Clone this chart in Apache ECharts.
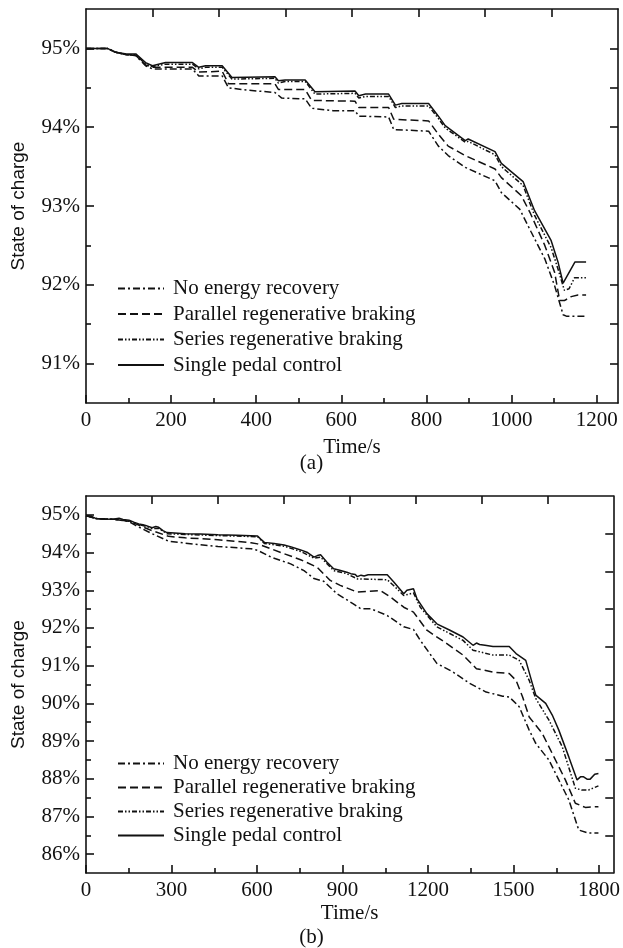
<!DOCTYPE html>
<html>
<head>
<meta charset="utf-8">
<script src="https://cdn.jsdelivr.net/npm/echarts@6/dist/echarts.min.js"></script>
<style>
html,body{margin:0;padding:0;background:#fff;}
#c{width:623px;height:948px;}
</style>
</head>
<body>
<div id="c"></div>
<script>
// ---- Data: (a) ----
const seriesNames = ['No energy recovery', 'Parallel regenerative braking', 'Series regenerative braking', 'Single pedal control'];

const aNone = [[0,95.0],[50,95.0],[70,94.95],[95,94.92],[117,94.91],[140,94.78],[156,94.74],[250,94.74],[265,94.65],[320,94.65],[335,94.50],[380,94.47],[444,94.44],[460,94.37],[515,94.36],[530,94.24],[580,94.21],[632,94.21],[641,94.14],[711,94.13],[723,93.97],[805,93.95],[828,93.76],[851,93.64],[891,93.49],[961,93.32],[976,93.17],[1019,92.96],[1046,92.67],[1078,92.33],[1101,91.99],[1121,91.62],[1130,91.60],[1175,91.60]];
const aParallel = [[0,95.0],[50,95.0],[70,94.95],[95,94.92],[117,94.91],[140,94.79],[156,94.76],[250,94.76],[265,94.70],[320,94.71],[335,94.55],[444,94.55],[452,94.48],[515,94.48],[530,94.34],[632,94.33],[641,94.25],[711,94.25],[723,94.10],[805,94.08],[828,93.91],[851,93.76],[891,93.64],[961,93.47],[976,93.36],[1023,93.13],[1043,92.92],[1078,92.50],[1101,92.16],[1113,91.80],[1124,91.80],[1140,91.85],[1156,91.87],[1175,91.87]];
const aSeries = [[0,95.0],[50,95.0],[70,94.95],[95,94.92],[117,94.92],[140,94.80],[156,94.77],[187,94.80],[250,94.80],[265,94.74],[281,94.76],[320,94.76],[343,94.61],[444,94.62],[452,94.56],[468,94.58],[515,94.58],[538,94.42],[632,94.43],[641,94.37],[657,94.39],[711,94.39],[727,94.25],[742,94.27],[805,94.27],[828,94.11],[844,93.99],[891,93.81],[898,93.82],[961,93.65],[976,93.50],[1027,93.26],[1054,92.88],[1093,92.47],[1109,92.20],[1124,91.93],[1135,91.95],[1148,92.09],[1175,92.09]];
const aSingle = [[0,95.0],[50,95.0],[70,94.95],[95,94.93],[117,94.93],[140,94.82],[156,94.78],[187,94.82],[250,94.82],[265,94.76],[281,94.78],[320,94.78],[343,94.63],[444,94.64],[452,94.59],[468,94.60],[515,94.60],[538,94.45],[632,94.46],[641,94.40],[657,94.42],[711,94.42],[727,94.28],[742,94.30],[805,94.30],[828,94.14],[844,94.02],[891,93.83],[898,93.85],[961,93.69],[976,93.54],[1027,93.31],[1054,92.94],[1093,92.56],[1109,92.29],[1121,92.02],[1149,92.29],[1175,92.29]];

// ---- Data: (b) ----
const bNone = [[0,94.98],[35,94.90],[100,94.88],[151,94.82],[174,94.72],[232,94.50],[290,94.30],[348,94.25],[463,94.16],[579,94.10],[602,94.06],[649,93.88],[718,93.70],[765,93.52],[800,93.31],[834,93.24],[880,92.91],[938,92.64],[964,92.51],[999,92.51],[1057,92.33],[1115,92.03],[1149,91.96],[1173,91.67],[1231,91.06],[1288,90.83],[1346,90.53],[1404,90.30],[1462,90.19],[1485,90.17],[1520,89.91],[1555,89.29],[1578,88.94],[1624,88.50],[1659,87.97],[1694,87.44],[1729,86.64],[1763,86.56],[1798,86.56]];
const bParallel = [[0,94.98],[35,94.90],[100,94.88],[151,94.83],[174,94.76],[232,94.58],[290,94.43],[348,94.39],[463,94.34],[579,94.26],[602,94.23],[695,93.97],[753,93.81],[811,93.61],[857,93.26],[892,93.13],[952,92.95],[1034,92.99],[1068,92.82],[1115,92.55],[1149,92.42],[1196,91.94],[1265,91.59],[1323,91.28],[1370,90.92],[1428,90.83],[1485,90.79],[1509,90.61],[1532,90.17],[1555,89.64],[1601,89.20],[1636,88.67],[1682,87.97],[1717,87.35],[1752,87.24],[1798,87.26]];
const bSeries = [[0,94.98],[35,94.90],[100,94.88],[151,94.84],[185,94.74],[209,94.70],[232,94.64],[255,94.64],[284,94.50],[348,94.48],[463,94.45],[602,94.42],[626,94.24],[695,94.17],[753,94.03],[800,93.85],[823,93.88],[869,93.52],[915,93.44],[952,93.30],[1057,93.28],[1080,93.12],[1115,92.86],[1149,92.93],[1173,92.55],[1231,92.03],[1323,91.67],[1358,91.41],[1428,91.28],[1485,91.28],[1520,91.14],[1555,90.61],[1578,90.13],[1624,89.56],[1671,88.85],[1717,87.75],[1740,87.70],[1763,87.70],[1798,87.81]];
const bSingle = [[0,94.98],[20,94.96],[35,94.90],[70,94.88],[100,94.89],[116,94.91],[130,94.88],[151,94.86],[170,94.80],[185,94.76],[200,94.74],[209,94.72],[232,94.66],[245,94.69],[255,94.67],[270,94.58],[284,94.53],[310,94.52],[348,94.50],[400,94.49],[463,94.47],[530,94.46],[602,94.44],[614,94.35],[626,94.27],[660,94.24],[695,94.20],[720,94.15],[753,94.07],[775,94.01],[800,93.88],[812,93.92],[823,93.94],[845,93.75],[869,93.57],[890,93.53],[915,93.48],[929,93.44],[945,93.42],[952,93.36],[965,93.40],[976,93.38],[990,93.41],[1057,93.41],[1080,93.22],[1115,92.91],[1126,93.00],[1149,93.04],[1161,92.78],[1196,92.38],[1231,92.11],[1277,91.94],[1323,91.76],[1358,91.54],[1370,91.60],[1381,91.56],[1400,91.54],[1428,91.51],[1485,91.51],[1509,91.32],[1543,91.14],[1566,90.53],[1578,90.22],[1613,90.00],[1636,89.69],[1659,89.29],[1694,88.58],[1723,87.97],[1735,88.05],[1746,88.05],[1758,87.99],[1769,87.99],[1785,88.12],[1798,88.14]];

// ---- Ticks ----
const aXMajor = [0,200,400,600,800,1000,1200];
const aXMinor = [100,300,500,700,900,1100];
const aYMajor = [91,92,93,94,95];
const aYMinor = [91.5,92.5,93.5,94.5];
const bXMajor = [0,300,600,900,1200,1500,1800];
const bXMinor = [150,450,750,1050,1350,1650];
const bYMajor = [86,87,88,89,90,91,92,93,94,95];
const bYMinor = [86.5,87.5,88.5,89.5,90.5,91.5,92.5,93.5,94.5];

const SERIF = 'Liberation Serif';
const SANS = 'Liberation Sans';
const INK = '#111';
const dashes = [[7,3,2,3],[8,4],[5,2,1.5,2,1.5,2],'solid'];

function fracTicks(min, max, n) { const r = []; for (let i = 1; i < n; i++) r.push(min + (max - min) * i / n); return r; }

function buildAxes(gi, xMax, yMin, yMax, xMajor, xMinor, yMajor, yMinor, xNameGap) {
  const lineStyle = { color: INK, width: 1.6 };
  const xs = [
    { type:'value', gridIndex:gi, position:'bottom', min:0, max:xMax,
      name:'Time/s', nameLocation:'middle', nameGap:xNameGap,
      nameTextStyle:{ fontFamily:SERIF, fontSize:21, color:INK },
      axisLine:{ show:true, onZero:false, lineStyle },
      axisTick:{ show:true, inside:true, length:8, customValues:xMajor, lineStyle },
      axisLabel:{ show:true, customValues:xMajor, formatter:v => String(v), fontFamily:SERIF, fontSize:21, color:INK, margin:7 },
      splitLine:{ show:false } },
    { type:'value', gridIndex:gi, position:'bottom', min:0, max:xMax,
      axisLine:{ show:false, onZero:false },
      axisTick:{ show:true, inside:true, length:5, customValues:xMinor, lineStyle },
      axisLabel:{ show:false }, splitLine:{ show:false } },
    { type:'value', gridIndex:gi, position:'top', min:0, max:xMax,
      axisLine:{ show:true, onZero:false, lineStyle },
      axisTick:{ show:true, inside:true, length:8, customValues:fracTicks(0, xMax, 8), lineStyle },
      axisLabel:{ show:false }, splitLine:{ show:false } }
  ];
  const ys = [
    { type:'value', gridIndex:gi, position:'left', min:yMin, max:yMax,
      name:'State of charge', nameLocation:'middle', nameGap:58, nameRotate:90,
      nameTextStyle:{ fontFamily:SANS, fontSize:19, color:INK },
      axisLine:{ show:true, onZero:false, lineStyle },
      axisTick:{ show:true, inside:true, length:8, customValues:yMajor, lineStyle },
      axisLabel:{ show:true, customValues:yMajor, formatter:v => v + '%', fontFamily:SERIF, fontSize:21, color:INK, margin:6 },
      splitLine:{ show:false } },
    { type:'value', gridIndex:gi, position:'left', min:yMin, max:yMax,
      axisLine:{ show:false, onZero:false },
      axisTick:{ show:true, inside:true, length:5, customValues:yMinor, lineStyle },
      axisLabel:{ show:false }, splitLine:{ show:false } },
    { type:'value', gridIndex:gi, position:'right', min:yMin, max:yMax,
      axisLine:{ show:true, onZero:false, lineStyle },
      axisTick:{ show:true, inside:true, length:8, customValues:fracTicks(yMin, yMax, 10), lineStyle },
      axisLabel:{ show:false }, splitLine:{ show:false } }
  ];
  return { xs, ys };
}

const A = buildAxes(0, 1250, 90.5, 95.5, aXMajor, aXMinor, aYMajor, aYMinor, 34);
const B = buildAxes(1, 1850, 85.5, 95.5, bXMajor, bXMinor, bYMajor, bYMinor, 30);

function mk(name, data, dash, xi, yi) {
  return { type:'line', name, data, xAxisIndex:xi, yAxisIndex:yi, symbol:'none', showSymbol:false, smooth:false,
    lineStyle:{ color:INK, width:1.5, type:dash }, itemStyle:{ color:INK }, animation:false, z:3 };
}

const aData = [aNone, aParallel, aSeries, aSingle];
const bData = [bNone, bParallel, bSeries, bSingle];
const series = [];
aData.forEach((d, i) => series.push(mk(seriesNames[i], d, dashes[i], 0, 0)));
bData.forEach((d, i) => series.push(mk(seriesNames[i], d, dashes[i], 3, 3)));

function legend(top, gap) {
  return { show:true, orient:'vertical', left:117, top, padding:0, itemWidth:46, itemHeight:14, itemGap:gap,
    selectedMode:false, data:seriesNames,
    itemStyle:{ opacity:0 },
    textStyle:{ fontFamily:SERIF, fontSize:21, color:INK, lineHeight:20, padding:[0,0,0,4] } };
}

const chart = echarts.init(document.getElementById('c'), null, { renderer:'canvas' });
chart.setOption({
  animation:false,
  backgroundColor:'#fff',
  grid:[
    { left:86, top:9, width:532, height:394 },
    { left:86, top:496, width:532, height:377 }
  ],
  xAxis: A.xs.concat(B.xs),
  yAxis: A.ys.concat(B.ys),
  legend:[ legend(278, 4.5), legend(753, 3) ],
  graphic:[
    { type:'text', left:'center', top:453, style:{ text:'(a)', font:'21px "Liberation Serif"', fill:INK } },
    { type:'text', left:'center', top:927, style:{ text:'(b)', font:'21px "Liberation Serif"', fill:INK } }
  ],
  series
});
</script>
</body>
</html>
